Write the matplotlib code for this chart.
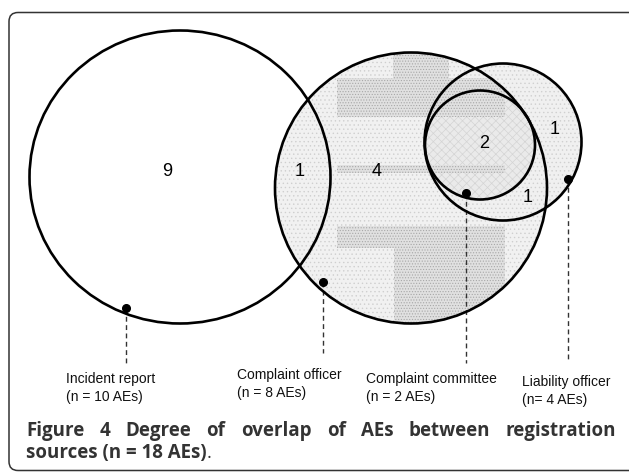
import matplotlib
matplotlib.use("Agg")
import matplotlib.pyplot as plt
from matplotlib.patches import Ellipse, Rectangle, FancyBboxPatch

# data: region counts and set sizes
sources = ["Incident report", "Complaint officer", "Complaint committee", "Liability officer"]
set_sizes = [10, 8, 2, 4]
size_fmt = ["(n = {} AEs)", "(n = {} AEs)", "(n = {} AEs)", "(n= {} AEs)"]
region_counts = [9, 1, 4, 2, 1, 1]
total = 18

# layout (pixels)
circles = [(180, 177, 301, 293), (411, 188, 272, 271), (503, 142, 157, 157), (480, 145, 110, 109)]
region_xy = [(167, 171), (300, 171), (377, 171), (484, 144), (555, 130), (528, 197)]
dots = [(126, 308), (323, 282), (466, 193), (568, 179)]
dash_end = [363, 353, 363, 360]
label_xy = [(66, 379), (237, 375), (366, 379), (522, 382)]

fig = plt.figure(figsize=(6.29, 4.72), dpi=100)
ax = fig.add_axes([0, 0, 1, 1])
ax.set_xlim(0, 629)
ax.set_ylim(472, 0)
ax.axis("off")

frame = FancyBboxPatch((9, 12.5), 640, 458, boxstyle="round,pad=0,rounding_size=9",
                       fc="white", ec="#333333", lw=1.1, zorder=0)
ax.add_patch(frame)

plt.rcParams["hatch.linewidth"] = 0.5

# fills
off = Ellipse(circles[1][:2], circles[1][2], circles[1][3], fc="#f1f1f1", ec="#cfcfcf", lw=0,
              hatch="....", zorder=1)
ax.add_patch(off)
ax.add_patch(Ellipse(circles[2][:2], circles[2][2], circles[2][3], fc="#f0f0f0", ec="#d0d0d0", lw=0,
                     hatch="....", zorder=1))
ax.add_patch(Ellipse(circles[3][:2], circles[3][2], circles[3][3], fc="#eaeaea", ec="#d4d4d4", lw=0,
                     hatch="xxxx", zorder=1))

# darker halftone blocks inside the complaint officer circle
blocks = [(337, 78, 168, 39), (393, 50, 56, 28), (337, 165, 168, 8), (337, 226, 168, 22), (394, 248, 111, 80)]
for bx, by, bw, bh in blocks:
    r = Rectangle((bx, by), bw, bh, fc="#e0e0e0", ec="#a8a8a8", lw=0, hatch="......", zorder=2)
    ax.add_patch(r)
    r.set_clip_path(off)

for cx, cy, w, h in circles:
    ax.add_patch(Ellipse((cx, cy), w, h, fc="none", ec="black", lw=1.9, zorder=4))

for (x, y), n in zip(region_xy, region_counts):
    ax.text(x, y, str(n), fontsize=13, family="Liberation Sans", ha="center", va="center", zorder=5)

for (dx, dy), ye in zip(dots, dash_end):
    ax.plot([dx, dx], [dy, ye], color="#333333", lw=1, ls=(0, (3.5, 2.5)), zorder=3)
    ax.plot(dx, dy, "o", color="black", ms=5.5, zorder=6)

for (lx, ly), name, n, fmt in zip(label_xy, sources, set_sizes, size_fmt):
    ax.text(lx, ly, name, fontsize=10, family="Liberation Sans", ha="left", va="center", color="#111111")
    ax.text(lx, ly + 18, fmt.format(n), fontsize=10, family="Liberation Sans", ha="left", va="center",
            color="#111111")

# caption, first line justified
renderer = fig.canvas.get_renderer()
cap_kw = dict(fontsize=13.5, family="Open Sans", fontweight="bold", color="#333333", va="baseline")
words = "Figure 4 Degree of overlap of AEs between registration".split()
texts = [ax.text(0, 436, w, **cap_kw) for w in words]
widths = [t.get_window_extent(renderer).width for t in texts]
gap = (616 - 26 - sum(widths)) / (len(words) - 1)
x = 26
for t, w in zip(texts, widths):
    t.set_x(x)
    x += w + gap
t2 = ax.text(26, 458, "sources (n = {} AEs)".format(total), **cap_kw)
w2 = t2.get_window_extent(renderer).width
ax.text(26 + w2, 458, ".", fontsize=13.5, family="Open Sans", color="#333333", va="baseline")

fig.savefig("out.png", dpi=100)
